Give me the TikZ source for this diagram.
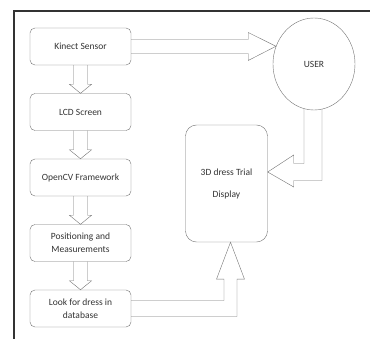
\documentclass[tikz,border=0pt]{standalone}
\usepackage{fontspec}
\setmainfont{Carlito}
\usetikzlibrary{calc,positioning,shapes.geometric}

\begin{document}
\begin{tikzpicture}[x=1pt,y=-1pt]
\tikzstyle{stage}=[rectangle,rounded corners=5pt,draw=black!55,
minimum width=101pt,minimum height=37pt,node distance = 65.5pt,
inner sep=2pt,align=center,text=black!80,font=\fontsize{9.5}{13}\selectfont]
\tikzstyle{blk}=[draw=black!55,line join=miter]
\useasboundingbox (0,0) rectangle (370,339);
% frame
\draw[black!80,line width=1.2pt] (14,339) -- (14,11) -- (370,11);

\node[stage] at (80.5,46.5) (kinect) {Kinect Sensor};
\node[stage,below of =kinect] (lcd) {LCD Screen};
\node[stage,below of =lcd] (opencv) {OpenCV Framework};
\node[stage,below of =opencv] (pos) {Positioning and\\Measurements};
\node[stage,below of =pos] (look) {Look for dress in\\database};
\node[ellipse,draw=black!55,minimum width=82pt,minimum height=92pt,
text=black!80,font=\fontsize{9.5}{13}\selectfont] at (314,64) (user) {USER};
\node[stage,rounded corners=11pt,minimum width=82pt,minimum height=117pt] at (226.5,183.5) (disp) {3D dress Trial\\[9pt]Display};

% block arrows down the left column
\foreach \a/\b in {kinect/lcd,lcd/opencv,opencv/pos,pos/look}
  \draw[blk] ($(\a.south)+(-7,0)$) -- ($(\b.north)+(-7,-9)$) -- ($(\b.north)+(-11,-9)$)
    -- (\b.north) -- ($(\b.north)+(11,-9)$) -- ($(\b.north)+(7,-9)$) -- ($(\a.south)+(7,0)$);

% sensor to user
\coordinate (utip) at (user.155);
\draw[blk] ($(kinect.east)+(0,-7)$) -- ($(kinect.east)+(117,-7)$) -- ($(kinect.east)+(117,-14)$)
  -- (utip) -- ($(kinect.east)+(117,14)$) -- ($(kinect.east)+(117,7)$) -- ($(kinect.east)+(0,7)$);

% user to display
\coordinate (dtip) at ($(disp.east)+(0,-11.5)$);
\draw[blk] ($(user.south)+(-10,-1)$) |- ($(dtip)+(26,-8.5)$) -- ($(dtip)+(26,-17)$)
  -- (dtip) -- ($(dtip)+(26,15)$) -- ($(dtip)+(26,8.5)$) -| ($(user.south)+(8,-1)$);

% database to display
\coordinate (btip) at ($(disp.south)+(4,0)$);
\draw[blk] ($(look.east)+(0,-8)$) -| ($(btip)+(-6.5,37)$) -- ($(btip)+(-14,37)$)
  -- (btip) -- ($(btip)+(14,37)$) -- ($(btip)+(6.5,37)$) |- ($(look.east)+(0,8)$);
\end{tikzpicture}
\end{document}
